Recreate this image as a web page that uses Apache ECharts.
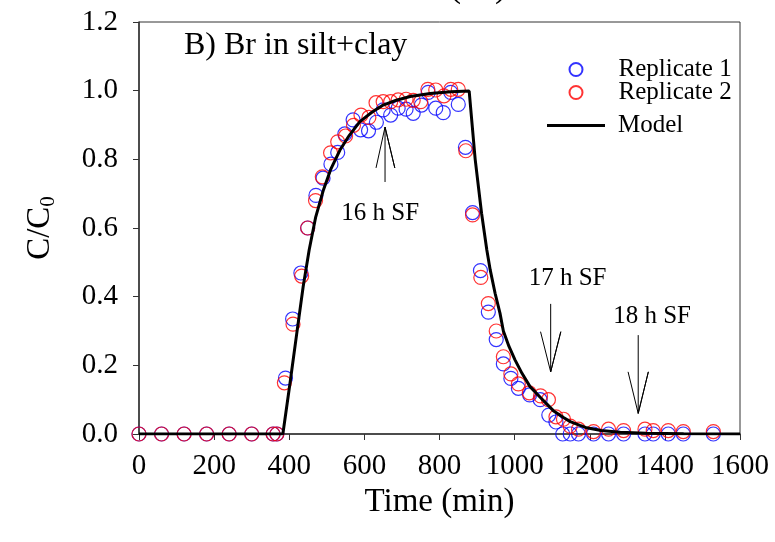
<!DOCTYPE html>
<html><head><meta charset="utf-8">
<script src="https://cdn.jsdelivr.net/npm/echarts@6/dist/echarts.min.js"></script>
<style>html,body{margin:0;padding:0;background:#fff}#c{width:775px;height:542px}</style>
</head><body><div id="c"></div>
<script>
// Replicate 1 (blue) [time (min), C/C0]
const rep1 = [
  [0,0],[60,0],[120,0],[180,0],[240,0],[300,0],[357,0],[367,0],
  [390,0.163],[409,0.335],[431,0.469],[449,0.600],[471,0.695],[490,0.745],
  [511,0.786],[529,0.820],[548,0.874],[570,0.915],[590,0.886],[611,0.883],
  [632,0.908],[650,0.944],[670,0.929],[690,0.949],[711,0.946],[730,0.934],
  [752,0.958],[770,0.995],[790,0.949],[810,0.936],[830,0.995],[850,0.960],
  [869,0.835],[888,0.645],[909,0.476],[930,0.355],[951,0.275],[970,0.204],
  [990,0.162],[1010,0.133],[1040,0.114],[1068,0.100],[1091,0.055],[1110,0.035],
  [1128,0],[1148,0],[1170,0],[1210,0],[1250,0],[1290,0],[1347,0],[1369,0],
  [1409,0],[1449,0],[1529,0]
];
// Replicate 2 (red)
const rep2 = [
  [0,0],[60,0],[120,0],[180,0],[240,0],[300,0],[357,0],[367,0],
  [387,0.149],[410,0.320],[433,0.460],[449,0.600],[470,0.680],[488,0.749],
  [510,0.819],[529,0.851],[550,0.868],[571,0.899],[591,0.929],[612,0.922],
  [631,0.965],[650,0.968],[670,0.968],[690,0.973],[711,0.975],[730,0.972],
  [750,0.968],[769,1.004],[790,1.002],[812,0.985],[830,1.004],[850,1.004],
  [870,0.825],[888,0.638],[910,0.456],[930,0.380],[951,0.300],[970,0.225],
  [990,0.175],[1010,0.146],[1039,0.120],[1069,0.111],[1090,0.100],[1110,0.050],
  [1130,0.043],[1148,0.023],[1170,0.014],[1210,0.007],[1250,0.014],[1290,0.010],
  [1347,0.014],[1369,0.010],[1409,0.010],[1449,0.007],[1529,0.007]
];
// Model curve
const model = [
  [0,0],[383,0],[402,0.148],[420,0.293],[437,0.429],[453,0.536],[470,0.630],
  [491,0.711],[510,0.770],[535,0.827],[560,0.870],[588,0.910],[620,0.937],
  [650,0.958],[685,0.972],[722,0.983],[775,0.992],[830,0.997],[879,0.999],
  [895,0.800],[912,0.643],[926,0.536],[935,0.478],[948,0.410],[961,0.352],
  [970,0.300],[985,0.255],[1001,0.216],[1020,0.176],[1041,0.138],[1068,0.107],
  [1086,0.087],[1103,0.068],[1130,0.048],[1148,0.036],[1174,0.025],[1192,0.018],
  [1230,0.010],[1281,0.005],[1350,0.002],[1450,0.001],[1600,0]
];
// Annotation arrows (data coords): barb, tip, barb, tip, tail
const arrow16 = [[631,0.775],[655,0.894],[681,0.775],[655,0.894],[655,0.734]];
const arrow17 = [[1069,0.298],[1096,0.181],[1123,0.298],[1096,0.181],[1096,0.379]];
const arrow18 = [[1302,0.181],[1329,0.060],[1356,0.181],[1329,0.060],[1329,0.288]];
const notes = [
  {text:'16 h SF', x:642, y:0.642},
  {text:'17 h SF', x:1141, y:0.452},
  {text:'18 h SF', x:1366, y:0.342}
];
const panelLabel = 'B) Br in silt+clay';
const topLabel = '(Br)';
const xTicks = {min:0, max:1600, interval:200};
const yTicks = {min:0, max:1.2, interval:0.2};

const FONT = "'Liberation Serif','Times New Roman',serif";
const chart = echarts.init(document.getElementById('c'), null, {renderer:'canvas'});

function arrowSeries(d){
  return {type:'line', data:d, symbol:'none', silent:true, z:1,
    lineStyle:{color:'#000', width:1}, animation:false};
}
function legendFor(name, left, top, w, h, icon, textPad){
  const item = icon ? {name:name, icon:icon} : {name:name};
  return {data:[item], orient:'vertical', left:left, top:top, padding:0,
    itemWidth:w, itemHeight:h, selectedMode:false,
    textStyle:{fontFamily:FONT, fontSize:25, color:'#000', padding:[0,0,0,textPad]}};
}

chart.setOption({
  animation:false,
  backgroundColor:'#fff',
  grid:{left:139, right:35, top:22, bottom:108, show:true, borderColor:'#333', borderWidth:1},
  legend:[
    legendFor('Replicate 1', 568.5, 57, 13, 13, null, 31),
    legendFor('Replicate 2', 568.5, 80, 13, 13, null, 31),
    legendFor('Model', 547, 113, 58, 3, 'rect', 8)
  ],
  xAxis:{type:'value', min:xTicks.min, max:xTicks.max, interval:xTicks.interval,
    name:'Time (min)', nameLocation:'middle', nameGap:40,
    nameTextStyle:{fontFamily:FONT, fontSize:33, color:'#000'},
    axisLine:{lineStyle:{color:'#333', width:1.5}},
    axisTick:{inside:false, length:6, lineStyle:{color:'#333'}},
    axisLabel:{fontFamily:FONT, fontSize:29, color:'#000', margin:18, formatter:v=>String(v)},
    splitLine:{show:false}},
  yAxis:{type:'value', min:yTicks.min, max:yTicks.max, interval:yTicks.interval,
    name:'{a|C/C}{b|0}', nameLocation:'middle', nameGap:80,
    nameTextStyle:{fontFamily:FONT, fontSize:33, color:'#000',
      rich:{a:{fontFamily:FONT, fontSize:33, color:'#000'},
            b:{fontFamily:FONT, fontSize:21, color:'#000', padding:[16,0,0,0]}}},
    axisLine:{lineStyle:{color:'#333', width:1.5}},
    axisTick:{inside:false, length:6, lineStyle:{color:'#333'}},
    axisLabel:{fontFamily:FONT, fontSize:29, color:'#000', margin:21,
      formatter:v=>v.toFixed(1)},
    splitLine:{show:false}},
  series:[
    {name:'Replicate 1', type:'scatter', data:rep1, symbol:'circle', symbolSize:14, z:2,
      itemStyle:{color:'rgba(0,0,0,0)', borderColor:'#0000ff', borderWidth:1.2}},
    {name:'Replicate 2', type:'scatter', data:rep2, symbol:'circle', symbolSize:14, z:3,
      itemStyle:{color:'rgba(0,0,0,0)', borderColor:'#ff0000', borderWidth:1.2}},
    {name:'Model', type:'line', data:model, symbol:'none', z:4,
      lineStyle:{color:'#000', width:3}, itemStyle:{color:'#000'}},
    arrowSeries(arrow16), arrowSeries(arrow17), arrowSeries(arrow18)
  ]
});

const g = notes.map(n=>{
  const p = chart.convertToPixel({gridIndex:0}, [n.x, n.y]);
  return {type:'text', x:p[0], y:p[1], silent:true,
    style:{text:n.text, fontFamily:FONT, fontSize:25, fill:'#000', align:'center', verticalAlign:'middle'}};
});
g.push({type:'text', left:184, top:30, silent:true,
  style:{text:panelLabel, fontFamily:FONT, fontSize:32, fill:'#000'}});
g.push({type:'text', x:478, y:5, silent:true,
  style:{text:topLabel, fontFamily:FONT, fontSize:34, fill:'#000', align:'center', verticalAlign:'bottom'}});
chart.setOption({graphic:g});
</script>
</body></html>
